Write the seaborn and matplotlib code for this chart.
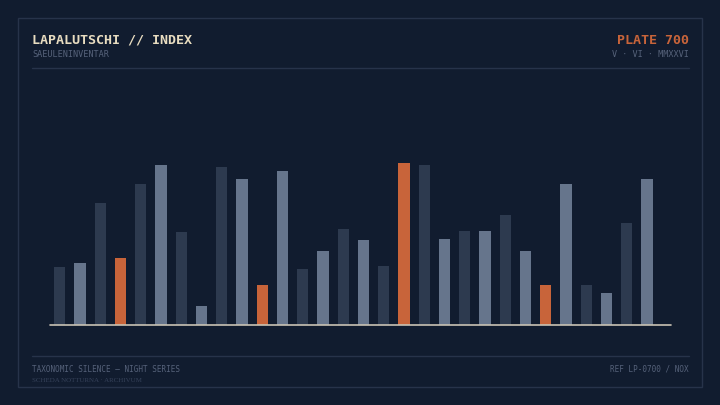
import pandas as pd
import matplotlib.pyplot as plt
import seaborn as sns
from matplotlib.patches import Rectangle
from matplotlib.lines import Line2D

# Data
labels = [f'C{i+1:02d}' for i in range(30)]
values = [36, 39, 76, 42, 88, 100, 58, 12, 99, 91,
          25, 96, 35, 46, 60, 53, 37, 101, 100, 54,
          59, 59, 69, 46, 25, 88, 25, 20, 64, 91]
tones = ['dark', 'light'] * 15
highlight = [3, 10, 17, 24]

BG = '#111c2f'
FRAME = '#27334a'
DARK = '#2d3a4f'
LIGHT = '#66758c'
ORANGE = '#c8643a'
CREAM = '#e8dcc0'
MUTED = '#56627a'

colors = [ORANGE if i in highlight else (DARK if t == 'dark' else LIGHT)
          for i, t in enumerate(tones)]
df = pd.DataFrame({'label': labels, 'value': values})

sns.set_theme(style='white')
plt.rcParams['font.family'] = ['DejaVu Sans Mono', 'DejaVu Sans']

fig = plt.figure(figsize=(7.2, 4.05), dpi=100, facecolor=BG)
W, H = 720, 405
ax = fig.add_axes([50 / W, (H - 325) / H, (670.7 - 50) / W, 245 / H])
ax.set_facecolor(BG)

sns.barplot(data=df, x='label', y='value', hue='label', palette=colors,
            width=0.55, legend=False, linewidth=0, saturation=1, ax=ax)
ax.set_xlim(-0.48, 30.17)
ax.set_ylim(0, 245 / 1.6)
ax.set_xticks([])
ax.set_yticks([])
ax.set_xlabel('')
ax.set_ylabel('')
for s in ax.spines.values():
    s.set_visible(False)
ax.axhline(0, color='#c9c2b4', lw=1.2, clip_on=False)

# frame and rules
fig.patches.append(Rectangle((18 / W, (H - 387) / H), 684 / W, 369 / H,
                             transform=fig.transFigure, fill=False,
                             edgecolor=FRAME, lw=1))
for y in (67.5, 355.5):
    fig.lines.append(Line2D([32 / W, 689 / W], [(H - y) / H] * 2,
                            transform=fig.transFigure, color=FRAME, lw=1))

def fy(y):
    return (H - y) / H

fig.text(32 / W, fy(40), 'LAPALUTSCHI // INDEX', color=CREAM, fontsize=9.65,
         fontweight='bold', va='center', ha='left')
fig.text(32 / W, fy(54.5), 'SAEULENINVENTAR', color=MUTED, fontsize=6.1,
         va='center', ha='left')
fig.text(689 / W, fy(40), 'PLATE 700', color=ORANGE, fontsize=9.65,
         fontweight='bold', va='center', ha='right')
fig.text(689 / W, fy(54.5), 'V · VI · MMXXVI', color=MUTED, fontsize=6.1,
         va='center', ha='right')
fig.text(32 / W, fy(369), 'TAXONOMIC SILENCE — NIGHT SERIES', color=MUTED,
         fontsize=5.5, va='center', ha='left')
fig.text(32 / W, fy(380.5), 'SCHEDA NOTTURNA · ARCHIVUM', color='#36425a',
         fontsize=5.0, va='center', ha='left', family=['Liberation Serif'])
fig.text(689 / W, fy(369), 'REF LP-0700 / NOX', color=MUTED, fontsize=5.5,
         va='center', ha='right')

fig.savefig('out.png', dpi=100, facecolor=BG)
plt.close(fig)
